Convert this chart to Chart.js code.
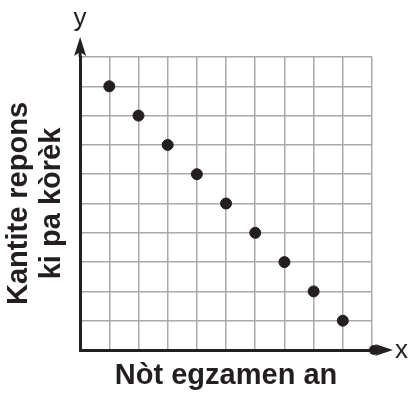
<!DOCTYPE html>
<html>
<head>
<meta charset="utf-8">
<script src="https://cdn.jsdelivr.net/npm/chart.js@4"></script>
<style>
  html, body { margin: 0; padding: 0; background: #fff; }
  #wrap { width: 414px; height: 395px; position: relative; }
</style>
</head>
<body>
<div id="wrap"><canvas id="chart_kantiteRepons"></canvas></div>
<script>
// data
var examScores = [1, 2, 3, 4, 5, 6, 7, 8, 9];
var wrongAnswers = [9, 8, 7, 6, 5, 4, 3, 2, 1];
var xTitle = 'Nòt egzamen an';
var yTitle = ['Kantite repons', 'ki pa kòrèk'];
var xAxisLabel = 'x';
var yAxisLabel = 'y';

var points = examScores.map(function(v, i) {
    return {x: v, y: wrongAnswers[i]};
});

var FONT = "'Liberation Sans', Arial, Helvetica, sans-serif";
var AXIS_COLOR = '#231f20';

var chart_kantiteRepons = new Chart(document.getElementById('chart_kantiteRepons'), {
    type: 'scatter',
    data: {
        datasets: [
            {
                data: points,
                backgroundColor: AXIS_COLOR,
                borderColor: AXIS_COLOR,
                pointRadius: 5.5,
                pointHoverRadius: 5.5
            }
        ]
    },
    options: {
        animation: false,
        responsive: true,
        maintainAspectRatio: false,
        layout: {
            padding: {top: 57, right: 42, bottom: 0, left: 0}
        },
        plugins: {
            legend: {display: false},
            tooltip: {enabled: false}
        },
        scales: {
            x: {
                type: 'linear',
                min: 0,
                max: 10,
                ticks: {display: false, stepSize: 1},
                grid: {color: '#a7a9ac', lineWidth: 1.5, drawTicks: false},
                border: {color: AXIS_COLOR, width: 3},
                title: {
                    display: true,
                    text: xTitle,
                    color: '#231f20',
                    font: {family: FONT, size: 29, weight: 'bold', lineHeight: 1},
                    padding: {top: 11.5, bottom: 4.5}
                }
            },
            y: {
                type: 'linear',
                min: 0,
                max: 10,
                ticks: {display: false, stepSize: 1},
                grid: {color: '#a7a9ac', lineWidth: 1.5, drawTicks: false},
                border: {color: AXIS_COLOR, width: 3},
                title: {
                    display: true,
                    text: yTitle,
                    color: '#231f20',
                    font: {family: FONT, size: 29, weight: 'bold', lineHeight: 1.14},
                    padding: {top: 2.5, bottom: 11.5}
                }
            }
        }
    },
    plugins: [{
        id: 'arrowsPlugin',
        beforeDraw: (chart) => {
            const ctx = chart.ctx;
            ctx.save();
            ctx.fillStyle = 'white';
            ctx.fillRect(0, 0, chart.width, chart.height);
            ctx.restore();
        },
        afterDraw: (chart) => {
            const ctx = chart.ctx;
            const a = chart.chartArea;
            ctx.save();
            ctx.strokeStyle = AXIS_COLOR;
            ctx.fillStyle = AXIS_COLOR;
            ctx.lineWidth = 3;
            // y axis arrow
            ctx.beginPath();
            ctx.moveTo(a.left, a.top);
            ctx.lineTo(a.left, a.top - 8);
            ctx.stroke();
            ctx.beginPath();
            ctx.moveTo(a.left, a.top - 20);
            ctx.lineTo(a.left + 6, a.top - 1);
            ctx.lineTo(a.left, a.top - 5);
            ctx.lineTo(a.left - 6, a.top - 1);
            ctx.closePath();
            ctx.fill();
            // x axis arrow with dot
            ctx.beginPath();
            ctx.arc(a.right + 2, a.bottom, 5, 0, Math.PI * 2);
            ctx.fill();
            ctx.beginPath();
            ctx.moveTo(a.right, a.bottom);
            ctx.lineTo(a.right + 12, a.bottom);
            ctx.stroke();
            ctx.beginPath();
            ctx.moveTo(a.right + 21, a.bottom);
            ctx.lineTo(a.right + 3, a.bottom - 6);
            ctx.lineTo(a.right + 8, a.bottom);
            ctx.lineTo(a.right + 3, a.bottom + 6);
            ctx.closePath();
            ctx.fill();
            // axis letters
            ctx.font = '26px ' + FONT;
            ctx.textAlign = 'center';
            ctx.textBaseline = 'alphabetic';
            ctx.fillText(yAxisLabel, a.left, a.top - 31);
            ctx.textAlign = 'left';
            ctx.textBaseline = 'middle';
            ctx.fillText(xAxisLabel, a.right + 23, a.bottom + 1);
            ctx.restore();
        }
    }]
});
</script>
</body>
</html>
